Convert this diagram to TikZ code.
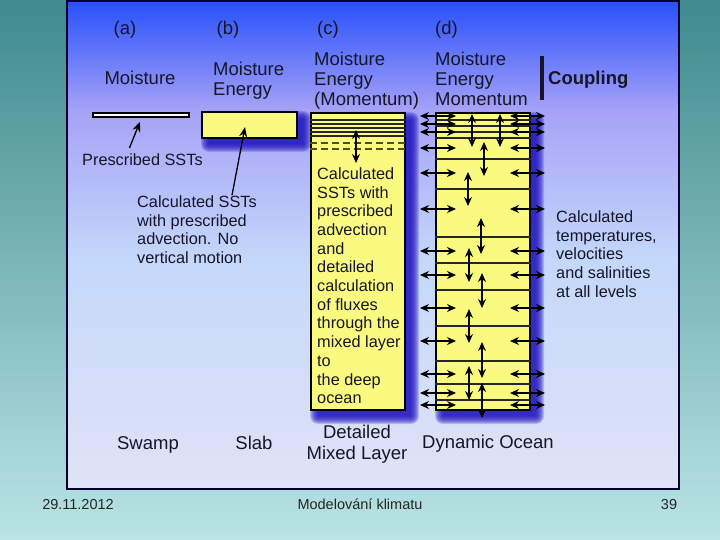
\documentclass[tikz,border=0pt]{standalone}
\usepackage{fontspec}
\setmainfont{Liberation Sans}
\usetikzlibrary{arrows.meta}

\definecolor{slidetop}{RGB}{62,138,140}
\definecolor{slidebot}{RGB}{186,228,230}
\definecolor{paneltop}{RGB}{40,80,252}
\definecolor{panelmid}{RGB}{166,162,247}
\definecolor{panellow}{RGB}{196,216,250}
\definecolor{panelbot}{RGB}{224,227,247}
\definecolor{boxyellow}{RGB}{250,250,128}
\definecolor{shadowblue}{RGB}{30,18,190}
\definecolor{ink}{RGB}{22,22,40}
\definecolor{olive}{RGB}{80,80,30}

\begin{document}
\begin{tikzpicture}[x=1pt,y=-1pt,
  head/.style={font=\fontsize{18.5}{20}\selectfont, text=ink, inner sep=0pt},
  body/.style={font=\fontsize{16.3}{18.7}\selectfont, text=ink, inner sep=0pt, align=left},
  foot/.style={font=\fontsize{14.5}{16}\selectfont, text=black!85, inner sep=0pt},
  layerbox/.style={draw=black, line width=1.8pt, fill=boxyellow, inner sep=0pt},
  layer/.style={black!85, line width=1.2pt},
  flux/.style={{Stealth[length=9pt,width=8pt]}-{Stealth[length=9pt,width=8pt]}, line width=1.3pt},
  point/.style={-{Stealth[length=10pt,width=8pt]}, line width=1.3pt},
]
\useasboundingbox (0,0) rectangle (720,540);

\shade[top color=slidetop, bottom color=slidebot] (0,0) rectangle (720,540);
\shade[top color=paneltop, bottom color=panelmid] (67,1) rectangle (679,110);
\shade[top color=panelmid, bottom color=panellow] (67,110) rectangle (679,260);
\shade[top color=panellow, bottom color=panelbot] (67,260) rectangle (679,489);
\draw[line width=2pt, black!80!blue] (67,1) rectangle (679,489);

\foreach \xa/\ya/\xb/\yb in {202/112/297/138,311/113/405/410,436/113/530/410}
  \foreach \r in {0,...,8}
    \fill[shadowblue, opacity=.2, rounded corners=\r pt]
      (\xa+7-\r,\ya+7-\r) rectangle (\xb+6+\r,\yb+6+\r);

\node[head, anchor=base] (la) at (125,35) {(a)};
\node[head, anchor=base] (lb) at (228,35) {(b)};
\node[head, anchor=base west] (lc) at (317,35) {(c)};
\node[head, anchor=base west] (ld) at (435,35) {(d)};

\node[head, anchor=base] (ha) at (140,85) {Moisture};
\node[head, anchor=north west, align=left] (hb) at (213,62) {Moisture\\Energy};
\node[head, anchor=north west, align=left] (hc) at (314,52) {Moisture\\Energy\\(Momentum)};
\node[head, anchor=north west, align=left] (hd) at (435,52) {Moisture\\Energy\\Momentum};
\node[head, anchor=base west, font=\fontsize{18.5}{20}\selectfont\bfseries] (cpl) at (548,85) {Coupling};
\draw[line width=4pt, ink] ([xshift=-6pt,yshift=24pt]cpl.west) -- ([xshift=-6pt,yshift=-20pt]cpl.west);

\node[draw=black, line width=1.5pt, fill=white, inner sep=0pt,
  minimum width=96pt, minimum height=4pt] (swamp) at (141,115) {};
\node[layerbox, minimum width=95pt, minimum height=26pt] (slab) at (249.5,125) {};
\node[layerbox, minimum width=94pt, minimum height=297pt] (mixed) at (358,261.5) {};
\node[layerbox, minimum width=94pt, minimum height=297pt] (ocean) at (483,261.5) {};

\foreach \y in {120,124,128,132,136}
  \draw[layer] (mixed.west |- 0,\y) -- (mixed.east |- 0,\y);
\foreach \y in {143,149}
  \draw[olive, line width=1.2pt, dash pattern=on 7pt off 4pt] (mixed.west |- 0,\y) -- (mixed.east |- 0,\y);
\draw[flux] (356,130) -- (356,163);

\foreach \y in {120,126,132,138,159,189,237,263,290,326,361,384,400}
  \draw[layer] (ocean.west |- 0,\y) -- (ocean.east |- 0,\y);
\foreach \y in {116,124,132,148,173,209,251,275,308,341,374,393,405}{
  \draw[flux] (420,\y) -- (456,\y);
  \draw[flux] (510,\y) -- (545,\y);
}
\foreach \x/\a/\b in {472/114/147,500/114/147,484/142/176,468/172/206,481/218/254,
  469/248/282,482/273/308,469/309/343,482/342/378,469/366/400,482/383/418}
  \draw[flux] (\x,\a) -- (\x,\b);

\node[body, anchor=base west] (pss) at (82,166) {Prescribed SSTs};
\draw[point] ([xshift=-13pt,yshift=6pt]pss.north) -- ([xshift=-1pt,yshift=-4pt]swamp.south);

\node[body, anchor=north west] (css) at (137,195.3)
  {Calculated SSTs\\with prescribed\\advection. No\\vertical motion};
\draw[point] ([xshift=95pt]css.north west) -- ([xshift=-4.5pt,yshift=-2pt]slab.center);

\node[body, anchor=north west] (cmix) at (317,167.3)
  {Calculated\\SSTs with\\prescribed\\advection\\and\\detailed\\calculation\\of fluxes\\through the\\mixed layer\\to\\the deep\\ocean};
\node[body, anchor=north west] (cdyn) at (556,210.3)
  {Calculated\\temperatures,\\velocities\\and salinities\\at all levels};

\node[head, anchor=base] (nswamp) at (148,449) {Swamp};
\node[head, anchor=base] (nslab) at (254,449) {Slab};
\node[head, anchor=north, align=center, font=\fontsize{18.5}{21}\selectfont] (nmixed) at (357,424.7) {Detailed\\Mixed Layer};
\node[head, anchor=base] (nocean) at (488,448) {Dynamic Ocean};

\node[foot, anchor=base] (date) at (78,509) {29.11.2012};
\node[foot, anchor=base] (title) at (360,509) {Modelování klimatu};
\node[foot, anchor=base] (page) at (669,509) {39};
\end{tikzpicture}
\end{document}
